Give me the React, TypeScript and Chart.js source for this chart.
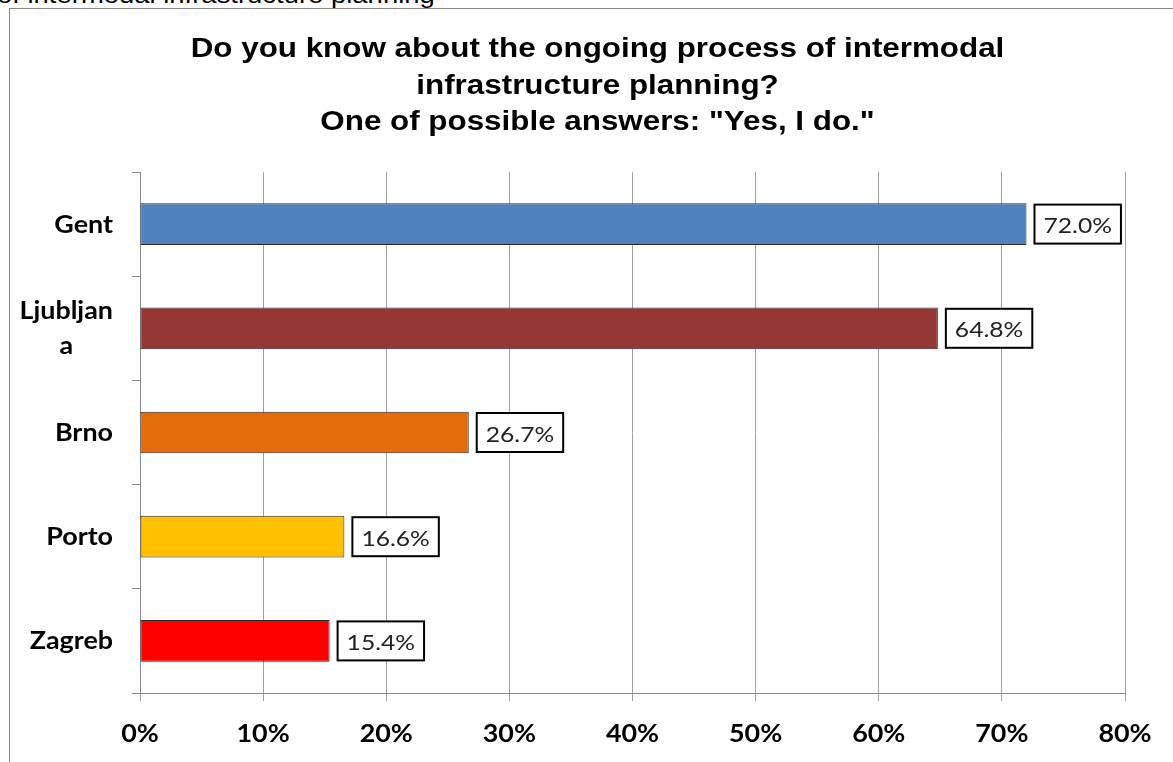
import React, { useEffect, useRef } from "react";
import { Chart, registerables } from "chart.js";

Chart.register(...registerables);

const categories: (string | string[])[] = ["Gent", ["Ljubljan", "a"], "Brno", "Porto", "Zagreb"];
const values: number[] = [72.0, 64.8, 26.7, 16.6, 15.4];
const barColors: string[] = ["#4F81BD", "#953735", "#E46C0A", "#FFC000", "#FF0000"];
const titleLines: string[] = [
  "Do you know about the ongoing process of intermodal",
  "infrastructure planning?",
  "One of possible answers: \"Yes, I do.\"",
];
const xTicks: number[] = [0, 10, 20, 30, 40, 50, 60, 70, 80];

const SX = 1.12;

function drawStretched(ctx: CanvasRenderingContext2D, text: string, x: number, y: number, align: string) {
  const w = ctx.measureText(text).width * SX;
  const left = align === "center" ? x - w / 2 : align === "right" ? x - w : x;
  ctx.save();
  ctx.translate(left, y);
  ctx.scale(SX, 1);
  ctx.textAlign = "left";
  ctx.textBaseline = "alphabetic";
  ctx.fillText(text, 0, 0);
  ctx.restore();
  return w;
}

const textPlugin = {
  id: "stretchedText",
  afterDraw(chart: any) {
    const ctx: CanvasRenderingContext2D = chart.ctx;
    const xs = chart.scales.x;
    const ys = chart.scales.y;
    const area = chart.chartArea;
    ctx.save();

    // Title
    ctx.fillStyle = "#000000";
    ctx.font = "bold 28px 'Liberation Sans', Arial";
    const titleBase = [57, 93.5, 130];
    titleLines.forEach((line, i) => drawStretched(ctx, line, 597.5, titleBase[i], "center"));

    // Y labels
    ctx.font = "bold 24px Lato";
    categories.forEach((cat, i) => {
      const lines = Array.isArray(cat) ? cat : [cat];
      const yc = ys.getPixelForValue(i);
      const maxW = Math.max(...lines.map((l) => ctx.measureText(l).width * SX));
      const cx = 113 - maxW / 2;
      const step = 35;
      lines.forEach((l, j) => {
        const y = yc - ((lines.length - 1) * step) / 2 + j * step + 8.5;
        drawStretched(ctx, l, cx, y, "center");
      });
    });

    // X labels
    ctx.font = "bold 24px Lato";
    xTicks.forEach((v) => {
      drawStretched(ctx, v + "%", xs.getPixelForValue(v), area.bottom + 49, "center");
    });

    ctx.restore();
  },
  afterDatasetsDraw(chart: any) {
    const ctx: CanvasRenderingContext2D = chart.ctx;
    const meta = chart.getDatasetMeta(0);
    ctx.save();
    ctx.font = "22px Lato";
    meta.data.forEach((bar: any, i: number) => {
      const text = values[i].toFixed(1) + "%";
      const tw = ctx.measureText(text).width * SX;
      const x0 = bar.x + 8;
      const h = 39;
      const w = tw + 18;
      const y0 = bar.y - h / 2;
      ctx.fillStyle = "#ffffff";
      ctx.fillRect(x0, y0, w, h);
      ctx.lineWidth = 2;
      ctx.strokeStyle = "#000000";
      ctx.strokeRect(x0, y0, w, h);
      ctx.fillStyle = "#222222";
      drawStretched(ctx, text, x0 + 9, bar.y + 9, "left");
    });
    ctx.restore();
  },
};

export default function App() {
  const ref = useRef<HTMLCanvasElement>(null);
  useEffect(() => {
    if (!ref.current) return;
    const chart = new Chart(ref.current, {
      type: "bar",
      data: {
        labels: categories,
        datasets: [
          {
            data: values,
            backgroundColor: barColors,
            borderColor: "#2a2a2a",
            borderWidth: 1,
            borderSkipped: false,
            categoryPercentage: 1,
            barPercentage: 0.4,
          },
        ],
      },
      options: {
        indexAxis: "y",
        animation: false,
        responsive: false,
        maintainAspectRatio: false,
        layout: { padding: { top: 172, right: 48, bottom: 0, left: 0 } },
        plugins: {
          legend: { display: false },
          tooltip: { enabled: false },
          title: { display: false },
        },
        scales: {
          x: {
            min: 0,
            max: 80,
            afterFit: (s: any) => {
              s.height = 69;
            },
            afterBuildTicks: (s: any) => {
              s.ticks = xTicks.map((v) => ({ value: v }));
            },
            ticks: {
              color: "rgba(0,0,0,0)",
              font: { family: "Lato", size: 12 },
              callback: (v: any) => v + "%",
            },
            grid: { color: "#a0a0a0", lineWidth: 1, drawTicks: true, tickLength: 8 },
            border: { color: "#8a8a8a", width: 1 },
          },
          y: {
            afterFit: (s: any) => {
              s.width = 140;
            },
            ticks: {
              color: "rgba(0,0,0,0)",
              font: { family: "Lato", size: 12 },
            },
            grid: { drawOnChartArea: false, drawTicks: true, tickLength: 8, color: "#8a8a8a", offset: true },
            border: { color: "#8a8a8a", width: 1 },
          },
        },
      },
      plugins: [textPlugin],
    });
    return () => chart.destroy();
  }, []);

  return (
    <div style={{ position: "fixed", left: 0, top: 0, width: 1173, height: 762, overflow: "hidden", background: "#fff" }}>
      <div
        style={{
          position: "absolute",
          left: -3,
          top: -19,
          fontFamily: "'Liberation Sans', Arial",
          fontSize: 24.5,
          color: "#000",
          whiteSpace: "nowrap",
          transform: "scaleX(1.12)",
          transformOrigin: "left top",
        }}
      >
        of intermodal infrastructure planning
      </div>
      <div
        style={{
          position: "absolute",
          left: 9,
          top: 8,
          width: 1200,
          height: 800,
          borderLeft: "1px solid #888",
          borderTop: "1px solid #888",
        }}
      />
      <canvas ref={ref} width={1173} height={762} style={{ position: "absolute", left: 0, top: 0 }} />
    </div>
  );
}
